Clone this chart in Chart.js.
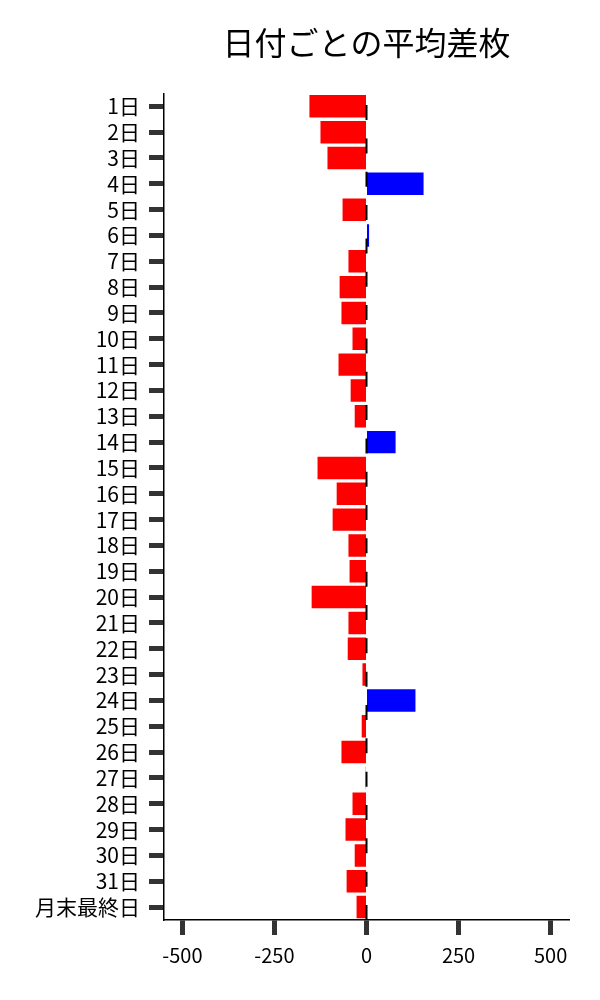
<!DOCTYPE html>
<html>
<head>
<meta charset="utf-8">
<script src="https://cdn.jsdelivr.net/npm/chart.js@4"></script>
<style>
html,body{margin:0;padding:0;background:#fff;}
#wrap{width:600px;height:1000px;}
</style>
</head>
<body>
<div id="wrap"><canvas id="c" width="600" height="1000"></canvas></div>
<script>
const categories = ["1日","2日","3日","4日","5日","6日","7日","8日","9日","10日","11日","12日","13日","14日","15日","16日","17日","18日","19日","20日","21日","22日","23日","24日","25日","26日","27日","28日","29日","30日","31日","月末最終日"];
const avgDiff = [-155,-125,-106,155,-65,7,-49,-73,-68,-38,-76,-43,-32,79,-133,-81,-92,-49,-46,-149,-49,-51,-11,133,-13,-68,-2,-38,-57,-32,-54,-27];
const xTicks = [-500,-250,0,250,500];
const titleText = "日付ごとの平均差枚";

const FONT = "'Noto Sans CJK JP','Noto Sans',sans-serif";
const TITLE_SIZE = 32;

const zeroLine = {
  id: 'zeroLine',
  afterDatasetsDraw(chart) {
    const {ctx, chartArea, scales} = chart;
    const x = scales.x.getPixelForValue(0);
    ctx.save();
    ctx.strokeStyle = '#000';
    ctx.lineWidth = 2;
    ctx.setLineDash([15, 18.33]);
    ctx.beginPath();
    ctx.moveTo(x, chartArea.bottom);
    ctx.lineTo(x, chartArea.top);
    ctx.stroke();
    ctx.restore();
  }
};

const centeredTitle = {
  id: 'centeredTitle',
  afterDraw(chart) {
    const {ctx, chartArea} = chart;
    const tb = chart.titleBlock;
    const cy = tb.top + 24 + TITLE_SIZE * 1.2 / 2;
    ctx.save();
    ctx.fillStyle = '#000';
    ctx.font = TITLE_SIZE + 'px ' + FONT;
    ctx.textAlign = 'center';
    ctx.textBaseline = 'middle';
    ctx.fillText(titleText, (chartArea.left + chartArea.right) / 2, cy);
    ctx.restore();
  }
};

new Chart(document.getElementById('c'), {
  type: 'bar',
  data: {
    labels: categories,
    datasets: [{
      data: avgDiff,
      backgroundColor: avgDiff.map(v => v >= 0 ? '#0000ff' : '#ff0000'),
      borderWidth: 0,
      categoryPercentage: 1.0,
      barPercentage: 0.87
    }]
  },
  options: {
    indexAxis: 'y',
    responsive: false,
    animation: false,
    devicePixelRatio: 1,
    layout: { padding: { left: 0, right: 31, top: 0, bottom: 0 } },
    plugins: {
      legend: { display: false },
      tooltip: { enabled: false },
      title: {
        display: true,
        text: titleText,
        color: 'rgba(0,0,0,0)',
        font: { family: FONT, size: TITLE_SIZE, weight: 'normal' },
        padding: { top: 24, bottom: 31 }
      }
    },
    scales: {
      x: {
        type: 'linear',
        min: -550,
        max: 550,
        afterBuildTicks(scale) { scale.ticks = xTicks.map(v => ({ value: v })); },
        afterFit(scale) { scale.height = 80; },
        grid: {
          drawOnChartArea: false,
          drawTicks: true,
          tickLength: 15,
          tickWidth: 5,
          tickColor: '#333'
        },
        border: { display: true, color: '#000', width: 1.5 },
        ticks: {
          color: '#000',
          padding: 8,
          font: { family: FONT, size: 20 },
          maxRotation: 0
        }
      },
      y: {
        type: 'category',
        afterFit(scale) { scale.width = 164; },
        grid: {
          offset: false,
          drawOnChartArea: false,
          drawTicks: true,
          tickLength: 15,
          tickWidth: 5,
          tickColor: '#333'
        },
        border: { display: true, color: '#000', width: 1.5 },
        ticks: {
          color: '#000',
          padding: 9,
          autoSkip: false,
          font: { family: FONT, size: 21 }
        }
      }
    }
  },
  plugins: [zeroLine, centeredTitle]
});
</script>
</body>
</html>
